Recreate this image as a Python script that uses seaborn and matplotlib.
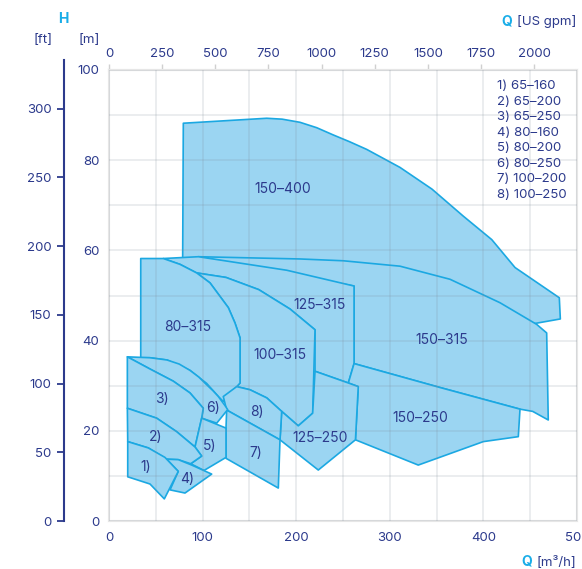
import matplotlib.pyplot as plt
import seaborn as sns

# pump envelopes: flow Q [m3/h] and head H [m]
q_150_400 = [79.4, 168.5, 185.0, 204.1, 222.0, 239.6, 257.0, 275.3, 310.9, 345.0, 378.5, 408.9, 433.8, 481.1, 482.2, 455.1, 420.0, 300.0, 96.0, 78.7]
h_150_400 = [88.2, 89.3, 89.1, 88.4, 87.2, 85.6, 84.1, 82.4, 78.4, 73.6, 67.6, 62.4, 56.2, 49.5, 44.8, 43.8, 45.0, 52.0, 56.0, 58.4]

q_150_315 = [95.4, 204.1, 250.3, 310.9, 364.3, 417.7, 456.9, 467.6, 469.3, 452.7, 439.1, 353.6, 261.8, 261.8]
h_150_315 = [58.6, 58.1, 57.7, 56.5, 53.6, 48.4, 43.6, 41.7, 22.4, 24.3, 24.8, 29.6, 34.9, 52.1]

q_125_315 = [95.4, 189.9, 261.8, 261.8, 255.7, 220.1, 220.1, 193.4, 160.0, 125.0, 93.7, 75.9, 58.0]
h_125_315 = [58.6, 55.6, 52.1, 34.9, 30.6, 33.2, 42.4, 47.0, 51.3, 54.0, 55.0, 56.9, 58.2]

q_100_315 = [93.7, 125.0, 160.0, 193.4, 220.1, 217.6, 202.2, 184.5, 168.5, 150.6, 136.4, 140.0, 140.0, 134.6, 127.5, 118.6, 107.9]
h_100_315 = [55.0, 54.0, 51.3, 47.0, 42.4, 23.9, 21.1, 24.3, 27.3, 29.1, 29.8, 30.6, 40.6, 43.9, 47.3, 49.8, 52.8]

q_80_315 = [33.9, 58.0, 75.9, 93.7, 107.9, 118.6, 127.5, 134.6, 140.0, 140.0, 122.1, 116.8, 104.4, 86.5, 62.0, 43.8, 33.9]
h_80_315 = [58.2, 58.2, 56.9, 55.0, 52.8, 49.8, 47.3, 43.9, 40.6, 30.6, 26.5, 27.6, 30.5, 33.4, 35.7, 36.2, 36.2]

q_150_250 = [261.8, 353.6, 439.1, 437.3, 399.9, 330.4, 263.3, 266.3, 255.7]
h_150_250 = [34.9, 29.6, 24.8, 18.7, 17.6, 12.4, 18.0, 29.8, 30.6]

q_125_250 = [220.1, 255.7, 266.3, 263.3, 223.6, 182.7, 184.5, 202.2, 217.6]
h_125_250 = [33.2, 30.6, 29.8, 18.0, 11.3, 18.0, 24.3, 21.1, 23.9]

q_100_250 = [136.4, 150.6, 168.5, 184.5, 182.7, 125.7, 122.1]
h_100_250 = [29.8, 29.1, 27.3, 24.3, 18.0, 24.6, 27.6]

q_100_200 = [125.7, 182.7, 180.9, 125.0, 125.0]
h_100_200 = [24.6, 18.0, 7.3, 13.9, 20.6]

q_80_250 = [19.6, 43.8, 62.0, 75.0, 86.5, 96.0, 104.4, 111.0, 116.8, 123.9, 126.8, 115.1, 99.0, 100.7, 86.5, 68.7, 43.8]
h_80_250 = [36.4, 36.2, 35.7, 34.8, 33.4, 31.9, 30.2, 28.9, 27.6, 25.6, 24.7, 21.7, 22.8, 25.0, 28.4, 31.0, 33.7]

q_65_250 = [19.6, 43.8, 68.7, 86.5, 100.7, 99.0, 91.9, 72.3, 50.9, 19.6]
h_65_250 = [36.4, 33.7, 31.0, 28.4, 25.0, 22.8, 16.4, 19.8, 22.8, 25.0]

q_80_200 = [99.0, 125.0, 125.0, 101.5, 87.3, 99.0, 91.9]
h_80_200 = [22.8, 20.6, 14.1, 11.2, 12.7, 14.4, 16.4]

q_65_200 = [19.6, 50.9, 72.3, 91.9, 99.0, 87.3, 74.0, 61.6, 42.0, 20.0]
h_65_200 = [25.0, 22.8, 19.8, 16.4, 14.4, 12.7, 13.6, 13.7, 16.2, 17.6]

q_80_160 = [61.6, 74.0, 88.4, 109.7, 81.2, 65.2, 74.0]
h_80_160 = [13.7, 13.6, 12.4, 10.4, 6.2, 6.9, 11.0]

q_65_160 = [20.0, 42.0, 59.8, 74.0, 59.1, 43.8, 20.0]
h_65_160 = [17.6, 16.2, 14.1, 11.0, 4.9, 8.2, 9.8]

# in-chart labels and their positions (Q, H)
labels = ["150–400", "125–315", "80–315", "100–315", "150–315", "150–250", "125–250",
          "8)", "7)", "6)", "3)", "5)", "2)", "4)", "1)"]
label_q = [185.9, 225.4, 84.4, 182.7, 355.8, 332.3, 225.4, 158.1, 157.1, 111.1, 56.6, 107.9, 50.2, 83.3, 39.5]
label_h = [73.6, 48.0, 43.1, 36.9, 40.2, 22.9, 18.4, 24.2, 15.1, 25.1, 27.1, 16.7, 18.7, 9.3, 12.0]

legend_lines = ["1) 65–160", "2) 65–200", "3) 65–250", "4) 80–160",
                "5) 80–200", "6) 80–250", "7) 100–200", "8) 100–250"]

x_ticks = [0, 100, 200, 300, 400, 500]
y_ticks = [0, 20, 40, 60, 80, 100]
gpm_ticks = [0, 250, 500, 750, 1000, 1250, 1500, 1750, 2000]
ft_ticks = [0, 50, 100, 150, 200, 250, 300]

NAVY = "#2c3a8c"
CYAN = "#19ade8"
FILL = "#9bd5f2"
EDGE = "#1ba8e2"
GRID = "#e6e6e6"

sns.set_theme(style="white")
plt.rcParams["font.family"] = ["Inter", "DejaVu Sans"]
plt.rcParams["font.size"] = 9.5

W, H = 582, 569
fig = plt.figure(figsize=(W / 100, H / 100), dpi=100)
ax = fig.add_axes([109 / W, 1 - 521 / H, 468 / W, 451 / H])

envelopes = [
    (q_150_400, h_150_400), (q_150_315, h_150_315), (q_125_315, h_125_315),
    (q_100_315, h_100_315), (q_80_315, h_80_315), (q_150_250, h_150_250),
    (q_125_250, h_125_250), (q_100_250, h_100_250), (q_100_200, h_100_200),
    (q_80_250, h_80_250), (q_65_250, h_65_250), (q_80_200, h_80_200),
    (q_65_200, h_65_200), (q_80_160, h_80_160), (q_65_160, h_65_160),
]
for i, (q, h) in enumerate(envelopes):
    ax.fill(q, h, facecolor=FILL, edgecolor=EDGE, lw=1.2, joinstyle="round",
            zorder=1 + i * 0.01)

for txt, q, h in zip(labels, label_q, label_h):
    ax.text(q, h, txt, color=NAVY, ha="center", va="center", fontsize=10, zorder=5)

ax.set_xlim(0, 500)
ax.set_ylim(0, 100)
ax.set_xticks(x_ticks)
ax.set_yticks(y_ticks)
ax.set_xticks(range(0, 501, 50), minor=True)
ax.set_yticks(range(0, 101, 10), minor=True)
ax.set_axisbelow(False)
ax.grid(which="both", color=(0.5, 0.55, 0.6), alpha=0.17, lw=1.3)
ax.tick_params(axis="both", which="both", length=0, colors=NAVY, labelsize=9.5)
ax.tick_params(axis="x", pad=8)
ax.tick_params(axis="y", pad=7)
for s in ax.spines.values():
    s.set_color(GRID)
    s.set_linewidth(1.5)
    s.set_zorder(0.5)

# US gpm on top
top = ax.secondary_xaxis("top", functions=(lambda q: q * 4.4029, lambda g: g / 4.4029))
top.set_xticks(gpm_ticks)
top.tick_params(length=4, width=1, color="#d0d0d0", labelcolor=NAVY, labelsize=9.5, pad=3)
top.spines["top"].set_color(GRID)
top.spines["top"].set_linewidth(1.5)

# feet on a separate left spine
ft = ax.secondary_yaxis(-45 / 468, functions=(lambda m: m * 3.28084, lambda f: f / 3.28084))
ft.set_yticks(ft_ticks)
ft.tick_params(length=5, width=1.3, color=NAVY, labelcolor=NAVY, labelsize=9.5, pad=4)
ft.spines["left"].set_color(NAVY)
ft.spines["left"].set_linewidth(1.5)
ft.spines["left"].set_bounds(0, 335)

legend_text = "\n".join(legend_lines)
fig.text(497 / W, 1 - 80 / H, legend_text, color=NAVY, fontsize=9.5, ha="left", va="top",
         linespacing=1.39)

def px(x, y):
    return x / W, 1 - y / H

fig.text(*px(63, 19), "H", color=CYAN, fontsize=10, fontweight="bold", ha="center", va="center")
fig.text(*px(43, 40), "[ft]", color=NAVY, fontsize=9.5, ha="center", va="center")
fig.text(*px(89, 40), "[m]", color=NAVY, fontsize=9.5, ha="center", va="center")
fig.text(*px(512, 22), "Q", color=CYAN, fontsize=10, fontweight="bold", ha="right", va="center")
fig.text(*px(576, 22), "[US gpm]", color=NAVY, fontsize=9.5, ha="right", va="center")
fig.text(*px(532, 562), "Q", color=CYAN, fontsize=10, fontweight="bold", ha="right", va="center")
fig.text(*px(576, 562), "[m³/h]", color=NAVY, fontsize=9.5, ha="right", va="center")

fig.savefig("out.png", dpi=100)
